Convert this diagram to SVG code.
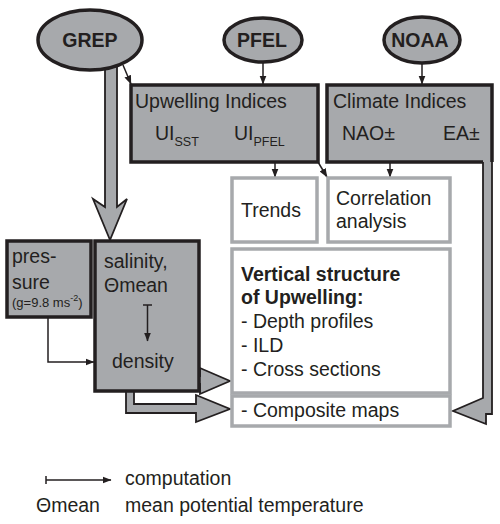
<svg xmlns="http://www.w3.org/2000/svg" width="500" height="524" viewBox="0 0 500 524">
<style>
.t{font-family:"Liberation Sans",Arial,Helvetica,sans-serif;font-size:19.5px;fill:#231f20}
.b{font-weight:bold}
.s{font-size:13px}
.dark{fill:#a7a9ac;stroke:#231f20;stroke-width:3.5}
.light{fill:#fff;stroke:#a7a9ac;stroke-width:3.5}
.fat{fill:#a7a9ac;stroke:#231f20;stroke-width:1.8;stroke-linejoin:miter}
.thin{fill:none;stroke:#231f20;stroke-width:1.5}
</style>
<defs>
<marker id="ah" markerWidth="9" markerHeight="8" refX="8.5" refY="4" orient="auto" markerUnits="userSpaceOnUse">
<path d="M0,0.5 L9,4 L0,7.5z" fill="#231f20"/>
</marker>
</defs>
<rect width="500" height="524" fill="#fff"/>
<g id="connectors">
<polygon class="fat" points="105,60 105,207 93,199 110,240 127,199 117,207 117,60"/>
<polygon class="fat" points="483,150 483,398 453,411 486,424 486,414 492,414 492,150"/>
<polygon class="fat" points="190,376 200,376 200,368 230,381 200,394 200,384 190,384"/>
<polygon class="fat" points="126,380 126,413 196,413 196,422 230,409 196,395 196,404 134,404 134,380"/>
<line class="thin" x1="123" y1="65" x2="131" y2="84" marker-end="url(#ah)"/>
<line class="thin" x1="263" y1="62" x2="263" y2="84" marker-end="url(#ah)"/>
<line class="thin" x1="422" y1="63" x2="422" y2="84" marker-end="url(#ah)"/>
<line class="thin" x1="275" y1="163" x2="275" y2="177" marker-end="url(#ah)"/>
<line class="thin" x1="318" y1="162" x2="327" y2="177" marker-end="url(#ah)"/>
<line class="thin" x1="390" y1="163" x2="390" y2="177" marker-end="url(#ah)"/>
<polyline class="thin" points="48,318 48,362 94,362" marker-end="url(#ah)"/>
</g>
<g id="grep"><ellipse class="dark" cx="90" cy="40" rx="52" ry="30"/><text class="t b" x="90" y="47" text-anchor="middle">GREP</text></g>
<g id="pfel"><ellipse class="dark" cx="263" cy="40" rx="39" ry="22"/><text class="t b" x="262" y="47" text-anchor="middle">PFEL</text></g>
<g id="noaa"><ellipse class="dark" cx="422" cy="40" rx="38" ry="23"/><text class="t b" x="420" y="47" text-anchor="middle">NOAA</text></g>
<g id="upwelling">
<rect class="dark" x="131" y="85" width="187" height="77"/>
<text class="t" x="135" y="108">Upwelling Indices</text>
<text class="t" x="155" y="140">UI<tspan style="font-size:12.5px" dy="6">SST</tspan></text>
<text class="t" x="234" y="140">UI<tspan style="font-size:12.5px" dy="6">PFEL</tspan></text>
</g>
<g id="climate">
<path class="dark" d="M483,162 H327 V85 H492 V162"/>
<text class="t" x="333" y="108">Climate Indices</text>
<text class="t" x="342" y="140">NAO±</text>
<text class="t" x="443" y="140">EA±</text>
</g>
<g id="trends"><rect class="light" x="232" y="178" width="85" height="64"/><text class="t" x="241" y="217">Trends</text></g>
<g id="correlation"><rect class="light" x="328" y="178" width="122" height="64"/><text class="t" x="336" y="205">Correlation</text><text class="t" x="336" y="228">analysis</text></g>
<g id="pressure">
<rect class="dark" x="7" y="241" width="84" height="76"/>
<text class="t" x="12" y="263">pres-</text>
<text class="t" x="12" y="289">sure</text>
<text class="t s" x="12" y="307">(g=9.8 ms<tspan style="font-size:9px" dy="-6">-2</tspan><tspan dy="6">)</tspan></text>
</g>
<g id="salinity">
<rect class="dark" x="95" y="241" width="104" height="150"/>
<text class="t" x="104" y="268">salinity,</text>
<text class="t" x="104" y="292">Θmean</text>
<line class="thin" x1="143" y1="305" x2="152" y2="305"/>
<line class="thin" x1="147.5" y1="305" x2="147.5" y2="341" marker-end="url(#ah)"/>
<text class="t" x="112" y="368">density</text>
</g>
<g id="vertical">
<rect class="light" x="232" y="249" width="218" height="144"/>
<text class="t b" x="241" y="281">Vertical structure</text>
<text class="t b" x="241" y="304">of Upwelling:</text>
<text class="t" x="241" y="328">- Depth profiles</text>
<text class="t" x="241" y="352">- ILD</text>
<text class="t" x="241" y="376">- Cross sections</text>
</g>
<g id="composite"><rect class="light" x="232" y="396" width="218" height="30"/><text class="t" x="241" y="417">- Composite maps</text></g>
<g id="legend">
<line class="thin" x1="46" y1="476" x2="46" y2="484"/>
<line class="thin" x1="46" y1="480" x2="111" y2="480" marker-end="url(#ah)"/>
<text class="t" x="125" y="485">computation</text>
<text class="t" x="36" y="512">Θmean</text>
<text class="t" x="125" y="512">mean potential temperature</text>
</g>
</svg>
